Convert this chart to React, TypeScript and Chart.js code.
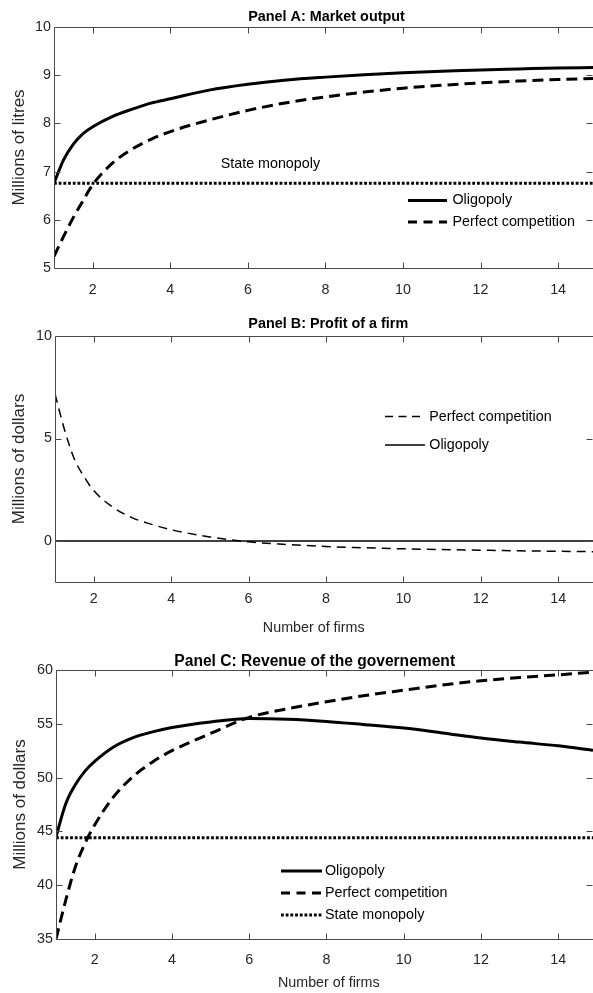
import React, { useEffect, useRef } from "react";
import { Chart, registerables } from "chart.js";

Chart.register(...registerables);

const FONT = "'Liberation Sans', Arial, Helvetica, sans-serif";
const TEXT_COLOR = "#262626";
const AXIS_LINE = "#4a4a4a";

// ---- data ----
const firms = [1, 1.25, 1.5, 1.75, 2, 2.5, 3, 3.5, 4, 5, 6, 7, 8, 9, 10, 11, 12, 13, 14, 14.9];
const endFirms = [1, 14.9];

const outputOligopoly = [6.76, 7.25, 7.57, 7.79, 7.93, 8.14, 8.29, 8.42, 8.51, 8.69, 8.81, 8.9, 8.96, 9.01, 9.05, 9.08, 9.11, 9.13, 9.15, 9.16];
const outputCompetition = [5.24, 5.66, 6.05, 6.4, 6.73, 7.17, 7.46, 7.67, 7.83, 8.07, 8.27, 8.43, 8.55, 8.65, 8.73, 8.79, 8.84, 8.88, 8.91, 8.93];
const outputStateMonopoly = [6.76, 6.76];

const profitCompetition = [7.17, 5.4, 4.0, 3.14, 2.46, 1.64, 1.13, 0.81, 0.55, 0.2, -0.04, -0.17, -0.27, -0.33, -0.38, -0.42, -0.45, -0.48, -0.5, -0.52];
const profitOligopoly = [0, 0];

const revenueOligopoly = [44.5, 47.55, 49.33, 50.6, 51.5, 52.87, 53.72, 54.25, 54.65, 55.17, 55.5, 55.43, 55.22, 54.92, 54.6, 54.15, 53.68, 53.3, 52.95, 52.55];
const revenueCompetition = [35.0, 38.57, 41.7, 43.88, 45.59, 48.26, 50.12, 51.46, 52.5, 54.1, 55.6, 56.4, 57.05, 57.63, 58.12, 58.6, 59.0, 59.3, 59.55, 59.8];
const revenueStateMonopoly = [44.4, 44.4];

const firmTicks = [2, 4, 6, 8, 10, 12, 14];
const outputTicks = [5, 6, 7, 8, 9, 10];
const profitTicks = [0, 5, 10];
const revenueTicks = [35, 40, 45, 50, 55, 60];

// ---- styles ----
const SOLID: number[] = [];
const DASH_THICK = [11, 6];
const DASH_THIN = [9, 6];
const DOT = [2.8, 1.9];
const LEG_DASH = [9, 6.5];
const LEG_DASH_THIN = [8, 5.5];

type Series = { label: string; xs: number[]; ys: number[]; width: number; dash: number[] };
type LegendItem = { text: string; x1: number; x2: number; tx: number; y: number; width: number; dash: number[] };
type Note = { text: string; x: number; y: number };
type PanelSpec = {
  key: string;
  top: number;
  height: number;
  left: number;
  padTop: number;
  xAxisHeight: number;
  xTickPad: number;
  yMin: number;
  yMax: number;
  yTicks: number[];
  yLabel: string;
  yTitlePad: number;
  title: string;
  titleX: number;
  titleY: number;
  titleSize: number;
  xLabel?: string;
  xLabelX?: number;
  xLabelY?: number;
  series: Series[];
  legend: LegendItem[];
  notes: Note[];
};

const panels: PanelSpec[] = [
  {
    key: "A",
    top: 0,
    height: 305,
    left: 54,
    padTop: 27,
    xAxisHeight: 37,
    xTickPad: 13,
    yMin: 5,
    yMax: 10,
    yTicks: outputTicks,
    yLabel: "Millions of litres",
    yTitlePad: 10.6,
    title: "Panel A: Market output",
    titleX: 326.5,
    titleY: 20.7,
    titleSize: 14.4,
    series: [
      { label: "State monopoly", xs: endFirms, ys: outputStateMonopoly, width: 3, dash: DOT },
      { label: "Perfect competition", xs: firms, ys: outputCompetition, width: 3, dash: DASH_THICK },
      { label: "Oligopoly", xs: firms, ys: outputOligopoly, width: 3, dash: SOLID },
    ],
    legend: [
      { text: "Oligopoly", x1: 408, x2: 447, tx: 452.5, y: 200.5, width: 3, dash: SOLID },
      { text: "Perfect competition", x1: 408, x2: 447, tx: 452.5, y: 222, width: 3, dash: LEG_DASH },
    ],
    notes: [{ text: "State monopoly", x: 220.7, y: 168 }],
  },
  {
    key: "B",
    top: 305,
    height: 335,
    left: 55,
    padTop: 31,
    xAxisHeight: 58,
    xTickPad: 8,
    yMin: -2,
    yMax: 10,
    yTicks: profitTicks,
    yLabel: "Millions of dollars",
    yTitlePad: 10.6,
    title: "Panel B: Profit of a firm",
    titleX: 328.3,
    titleY: 23.3,
    titleSize: 14.4,
    xLabel: "Number of firms",
    xLabelX: 313.7,
    xLabelY: 327,
    series: [
      { label: "Perfect competition", xs: firms, ys: profitCompetition, width: 1.5, dash: DASH_THIN },
      { label: "Oligopoly", xs: endFirms, ys: profitOligopoly, width: 1.5, dash: SOLID },
    ],
    legend: [
      { text: "Perfect competition", x1: 385, x2: 425, tx: 429.3, y: 111.6, width: 1.5, dash: LEG_DASH_THIN },
      { text: "Oligopoly", x1: 385, x2: 425, tx: 429.3, y: 140, width: 1.5, dash: SOLID },
    ],
    notes: [],
  },
  {
    key: "C",
    top: 640,
    height: 353,
    left: 56,
    padTop: 30,
    xAxisHeight: 54,
    xTickPad: 12,
    yMin: 35,
    yMax: 60,
    yTicks: revenueTicks,
    yLabel: "Millions of dollars",
    yTitlePad: 12.3,
    title: "Panel C: Revenue of the governement",
    titleX: 314.7,
    titleY: 26,
    titleSize: 15.6,
    xLabel: "Number of firms",
    xLabelX: 328.8,
    xLabelY: 347,
    series: [
      { label: "State monopoly", xs: endFirms, ys: revenueStateMonopoly, width: 3, dash: DOT },
      { label: "Perfect competition", xs: firms, ys: revenueCompetition, width: 3, dash: DASH_THICK },
      { label: "Oligopoly", xs: firms, ys: revenueOligopoly, width: 3, dash: SOLID },
    ],
    legend: [
      { text: "Oligopoly", x1: 281, x2: 322, tx: 325, y: 231, width: 3, dash: SOLID },
      { text: "Perfect competition", x1: 281, x2: 322, tx: 325, y: 253, width: 3, dash: LEG_DASH },
      { text: "State monopoly", x1: 281, x2: 322, tx: 325, y: 275, width: 3, dash: DOT },
    ],
    notes: [],
  },
];

function decorPlugin(p: PanelSpec) {
  return {
    id: "decor" + p.key,
    afterDraw(chart: any) {
      const { ctx, chartArea: a } = chart;
      const xs = chart.scales.x;
      const ys = chart.scales.y;
      const L = Math.round(a.left) + 0.5;
      const R = Math.round(a.right) - 0.5;
      const T = Math.round(a.top) + 0.5;
      const B = Math.round(a.bottom) + 0.5;
      ctx.save();
      // axes box (left, top, bottom) and inward ticks
      ctx.strokeStyle = AXIS_LINE;
      ctx.lineWidth = 1;
      ctx.setLineDash([]);
      ctx.beginPath();
      ctx.moveTo(L, T);
      ctx.lineTo(R + 1, T);
      ctx.moveTo(L, T);
      ctx.lineTo(L, B);
      ctx.moveTo(L, B);
      ctx.lineTo(R + 1, B);
      for (const v of firmTicks) {
        const px = Math.round(xs.getPixelForValue(v)) + 0.5;
        ctx.moveTo(px, B);
        ctx.lineTo(px, B - 6);
        ctx.moveTo(px, T);
        ctx.lineTo(px, T + 6);
      }
      for (const v of p.yTicks) {
        const py = Math.round(ys.getPixelForValue(v)) + 0.5;
        ctx.moveTo(L, py);
        ctx.lineTo(L + 6, py);
        ctx.moveTo(R, py);
        ctx.lineTo(R - 6, py);
      }
      ctx.stroke();

      // title
      ctx.fillStyle = "#000";
      ctx.font = `bold ${p.titleSize}px ${FONT}`;
      ctx.textAlign = "center";
      ctx.textBaseline = "alphabetic";
      ctx.fillText(p.title, p.titleX, p.titleY);

      // x label
      ctx.font = `14.3px ${FONT}`;
      ctx.fillStyle = TEXT_COLOR;
      if (p.xLabel) {
        ctx.fillText(p.xLabel, p.xLabelX!, p.xLabelY!);
      }

      // notes
      ctx.textAlign = "left";
      ctx.fillStyle = "#000";
      for (const n of p.notes) {
        ctx.fillText(n.text, n.x, n.y);
      }

      // legend
      ctx.lineCap = "butt";
      for (const it of p.legend) {
        ctx.strokeStyle = "#000";
        ctx.lineWidth = it.width;
        ctx.setLineDash(it.dash);
        ctx.beginPath();
        ctx.moveTo(it.x1, it.y);
        ctx.lineTo(it.x2, it.y);
        ctx.stroke();
        ctx.setLineDash([]);
        ctx.fillStyle = "#000";
        ctx.textBaseline = "middle";
        ctx.textAlign = "left";
        ctx.fillText(it.text, it.tx, it.y);
      }
      ctx.restore();
    },
  };
}

function Panel({ p }: { p: PanelSpec }) {
  const ref = useRef<HTMLCanvasElement | null>(null);
  useEffect(() => {
    const canvas = ref.current;
    if (!canvas) return;
    const chart = new Chart(canvas, {
      type: "line",
      data: {
        datasets: p.series.map((s) => ({
          label: s.label,
          data: s.xs.map((x, i) => ({ x, y: s.ys[i] })),
          borderColor: "#000",
          backgroundColor: "#000",
          borderWidth: s.width,
          borderDash: s.dash,
          borderCapStyle: "butt",
          pointRadius: 0,
          fill: false,
          cubicInterpolationMode: "monotone",
        })),
      },
      options: {
        responsive: false,
        animation: false,
        events: [],
        layout: { padding: { top: p.padTop, left: 0, right: 0, bottom: 0 } },
        plugins: {
          legend: { display: false },
          tooltip: { enabled: false },
          title: { display: false },
        },
        scales: {
          x: {
            type: "linear",
            min: 1,
            max: 14.9,
            grid: { display: false, drawTicks: false },
            border: { display: false },
            afterBuildTicks: (s: any) => {
              s.ticks = firmTicks.map((v) => ({ value: v }));
            },
            afterFit: (s: any) => {
              s.height = p.xAxisHeight;
            },
            ticks: {
              padding: p.xTickPad,
              color: TEXT_COLOR,
              font: { family: FONT, size: 14.3 },
              maxRotation: 0,
              autoSkip: false,
            },
          },
          y: {
            type: "linear",
            min: p.yMin,
            max: p.yMax,
            grid: { display: false, drawTicks: false },
            border: { display: false },
            afterBuildTicks: (s: any) => {
              s.ticks = p.yTicks.map((v) => ({ value: v }));
            },
            afterFit: (s: any) => {
              s.width = p.left;
            },
            ticks: {
              padding: 3,
              color: TEXT_COLOR,
              font: { family: FONT, size: 14.3 },
              autoSkip: false,
            },
            title: {
              display: true,
              text: p.yLabel,
              color: TEXT_COLOR,
              font: { family: FONT, size: 17, lineHeight: 1 },
              padding: { top: p.yTitlePad, bottom: 0 },
            },
          },
        },
      } as any,
      plugins: [decorPlugin(p)],
    });
    return () => chart.destroy();
  }, [p]);
  return (
    <div style={{ position: "absolute", left: 0, top: p.top, width: 593, height: p.height }}>
      <canvas ref={ref} width={593} height={p.height} style={{ display: "block" }} />
    </div>
  );
}

export default function App() {
  return (
    <div
      style={{
        position: "absolute",
        left: 0,
        top: 0,
        width: 593,
        height: 993,
        overflow: "hidden",
        background: "#fff",
      }}
    >
      {panels.map((p) => (
        <Panel key={p.key} p={p} />
      ))}
    </div>
  );
}
